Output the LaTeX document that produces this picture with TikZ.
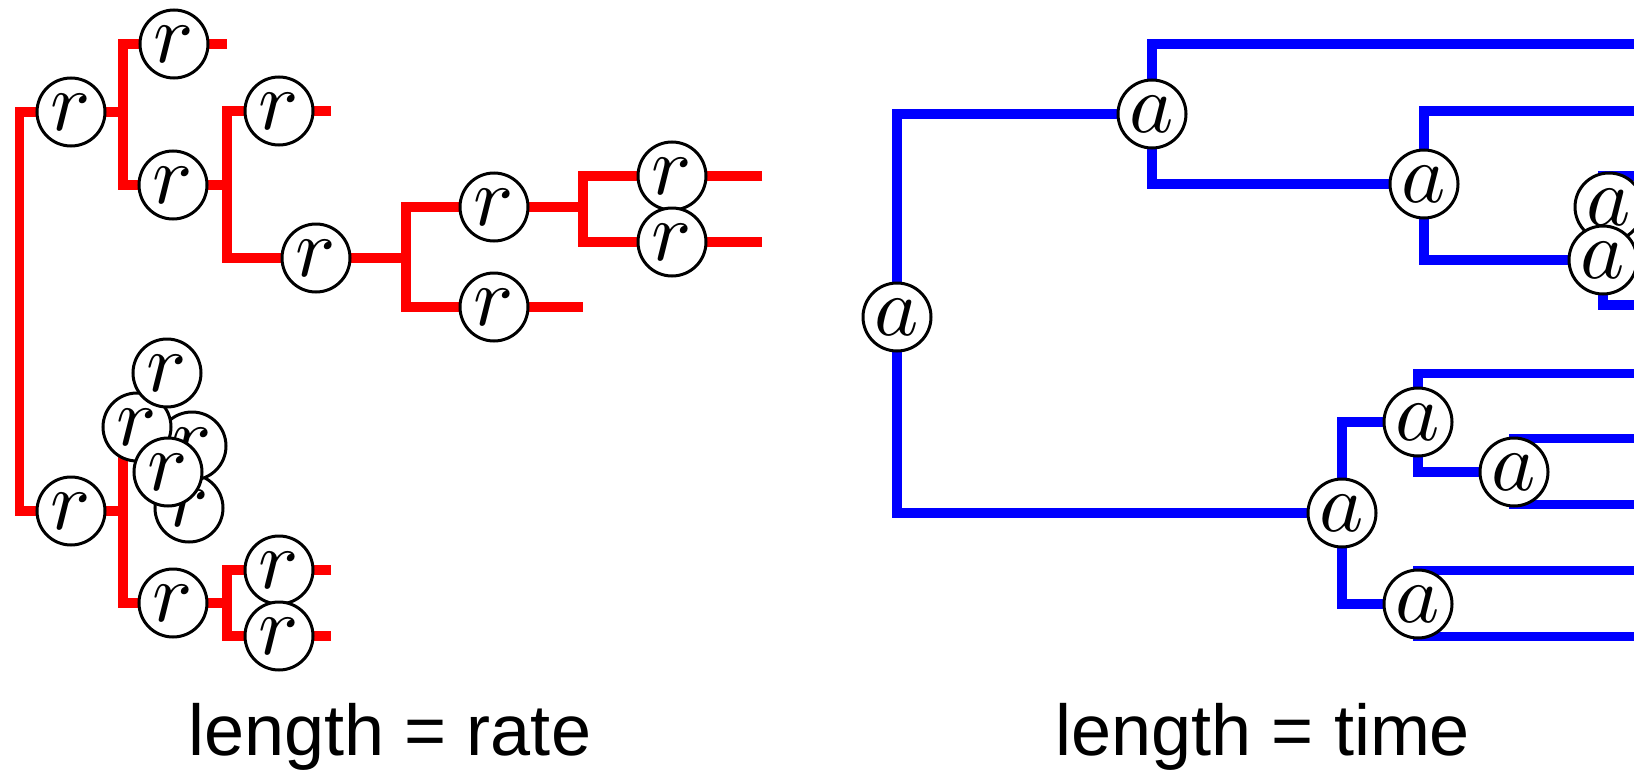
\documentclass[tikz,border=0pt]{standalone}
\DeclareFontShape{OML}{cmm}{m}{it}{<->cmmi10}{}
\DeclareFontShape{OMS}{cmsy}{m}{n}{<->cmsy10}{}
\DeclareFontShape{OT1}{cmr}{m}{n}{<->cmr10}{}
\usepackage{fontspec}
\newfontfamily\lblfont{Liberation Sans}
\pgfdeclarelayer{background}
\pgfsetlayers{background,main}
\begin{document}
\begin{tikzpicture}[x=0.5pt,y=-0.5pt,
  nd/.style={circle, draw=black, line width=1.5pt, fill=white, minimum size=34pt, inner sep=0pt, font=\fontsize{42}{42}\selectfont},
  redl/.style={draw={rgb,255:red,255;green,0;blue,0}, line width=4.75pt, line cap=butt, line join=miter},
  bluel/.style={draw={rgb,255:red,0;green,0;blue,255}, line width=4.75pt, line cap=butt, line join=miter},
  lbl/.style={anchor=base, inner sep=0pt, font=\lblfont\fontsize{36}{40}\selectfont}]
\useasboundingbox (0,0) rectangle (1634,771);

% ---------- red tree (length = rate) ----------
\node[nd] (r1) at (71,112) {$r$};
\node[nd] (ra) at (174,44) {$r$};
\node[nd] (rb) at (173,185) {$r$};
\node[nd] (rc) at (279,111) {$r$};
\node[nd] (rd) at (316,258) {$r$};
\node[nd] (re) at (494,207) {$r$};
\node[nd] (rh) at (494,307) {$r$};
\node[nd] (rf) at (672,176) {$r$};
\node[nd] (rg) at (672,242) {$r$};
\node[nd] (r2) at (71,511) {$r$};
\node[nd] (ri) at (173,603) {$r$};
\node[nd] (rj) at (279,570) {$r$};
\node[nd] (rk) at (279,636) {$r$};
% cluster
\node[nd] (cb) at (189,508) {$r$};
\node[nd] (cr) at (192,446) {$r$};
\node[nd] (cl) at (137,427) {$r$};
\node[nd] (ct) at (167,373) {$r$};
\node[nd] (cm) at (168,472) {$r$};

\coordinate (rootB) at (19.5,511);
\coordinate (s1) at (123,112);
\coordinate (s2) at (227,185);
\coordinate (s3) at (406,258);
\coordinate (s4) at (583,207);
\coordinate (s5) at (123,511);
\coordinate (s6) at (227,603);
\coordinate (ea) at (227,44);
\coordinate (ec) at (331,111);
\coordinate (eh) at (583,307);
\coordinate (ef) at (762,176);
\coordinate (eg) at (762,242);
\coordinate (ej) at (331,570);
\coordinate (ek) at (331,636);

% ---------- blue tree (length = time) ----------
\node[nd] (A0) at (897,317) {$a$};
\node[nd] (A1) at (1152,114) {$a$};
\node[nd] (A2) at (1424,184) {$a$};
\node[nd] (A4) at (1609,207) {$a$};
\node[nd] (A3) at (1603,260) {$a$};
\node[nd] (A5) at (1342,513) {$a$};
\node[nd] (A6) at (1418,422) {$a$};
\node[nd] (A7) at (1514,472) {$a$};
\node[nd] (A8) at (1418,604) {$a$};

\coordinate (t1) at (1634,44);
\coordinate (t2) at (1634,111);
\coordinate (t3) at (1634,176);
\coordinate (t4) at (1634,305);
\coordinate (t5) at (1634,373.5);
\coordinate (t6) at (1634,438.5);
\coordinate (t7) at (1634,504.5);
\coordinate (t8) at (1634,570.5);
\coordinate (t9) at (1634,636.5);

\begin{pgfonlayer}{background}
  \draw[redl] (r1.center) -| (rootB) -- (r2.center);
  \draw[redl] (r1.center) -- (s1);
  \draw[redl] (ea) -- (ra.center) -| (s1) |- (rb.center);
  \draw[redl] (rb.center) -- (s2);
  \draw[redl] (ec) -- (rc.center) -| (s2) |- (rd.center);
  \draw[redl] (rd.center) -- (s3);
  \draw[redl] (re.center) -| (s3) |- (rh.center) -- (eh);
  \draw[redl] (re.center) -- (s4);
  \draw[redl] (ef) -- (rf.center) -| (s4) |- (rg.center) -- (eg);
  \draw[redl] (r2.center) -- (s5);
  \draw[redl] (cl.center) -| (s5) |- (ri.center);
  \draw[redl] (ri.center) -- (s6);
  \draw[redl] (ej) -- (rj.center) -| (s6) |- (rk.center) -- (ek);

  \draw[bluel] (A1.center) -| (A0.center) |- (A5.center);
  \draw[bluel] (t1) -| (A1.center) |- (A2.center);
  \draw[bluel] (t2) -| (A2.center) |- (A3.center);
  \draw[bluel] (t3) -| (A3.center) |- (t4);
  \draw[bluel] (A6.center) -| (A5.center) |- (A8.center);
  \draw[bluel] (t5) -| (A6.center) |- (A7.center);
  \draw[bluel] (t6) -| (A7.center) |- (t7);
  \draw[bluel] (t8) -| (A8.center) |- (t9);
\end{pgfonlayer}

\node[lbl] (cap1) at (390,755) {length = rate};
\node[lbl] (cap2) at (1263,755) {length = time};
\end{tikzpicture}
\end{document}
